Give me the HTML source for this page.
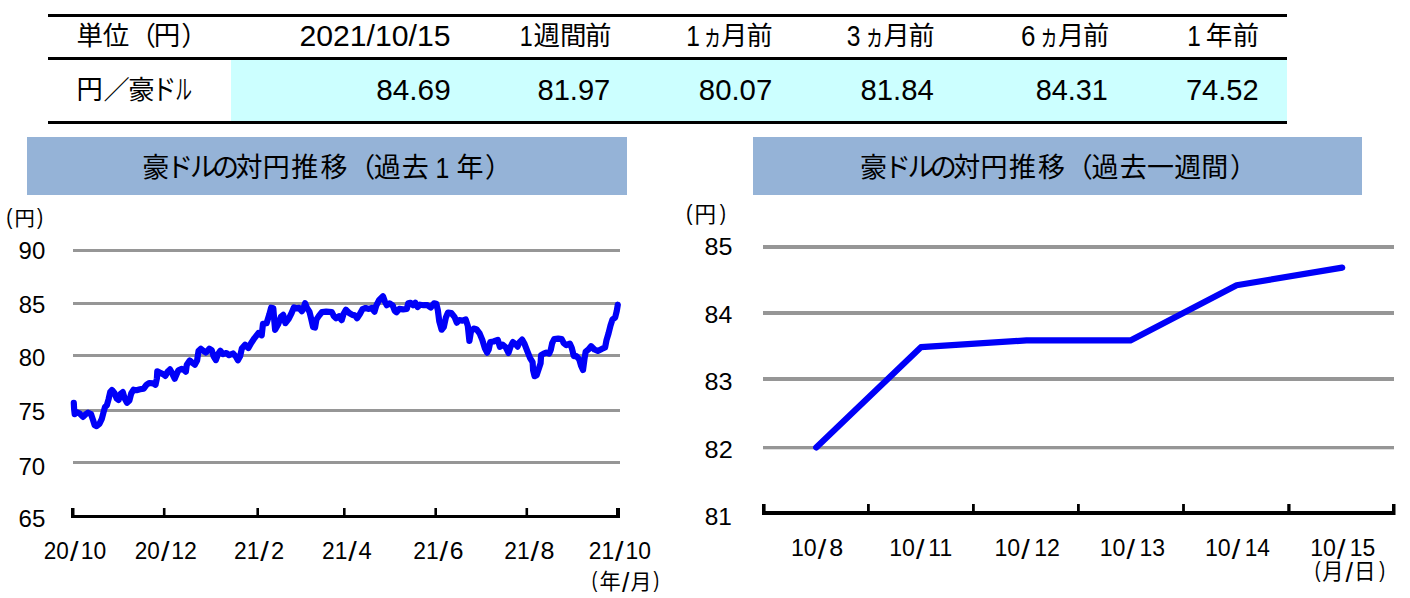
<!DOCTYPE html>
<html lang="ja">
<head>
<meta charset="utf-8">
<title>豪ドルの対円推移</title>
<style>
html,body{margin:0;padding:0;background:#fff;}
body{width:1410px;height:598px;overflow:hidden;font-family:"Liberation Sans","Noto Sans CJK JP",sans-serif;}
#page{position:relative;width:1410px;height:598px;background:#fff;overflow:hidden;}
.rule{position:absolute;left:48px;width:1239px;height:3px;background:#000;}
.vals{position:absolute;left:231px;top:60px;width:1056px;height:61px;background:#ccffff;}
.bar{position:absolute;top:137px;height:57.5px;background:#95b3d7;}
svg{position:absolute;left:0;top:0;}
text,.t{font-family:"Liberation Sans","Noto Sans CJK JP",sans-serif;fill:#000;}
.grid{fill:#969696;}
.axis{fill:#000;}
.line{fill:none;stroke:#0000f8;stroke-width:6.2;stroke-linejoin:round;stroke-linecap:round;}
</style>
</head>
<body>
<div id="page">
<!-- summary table: rules + value band -->
<div class="rule" style="top:14px"></div>
<div class="rule" style="top:57px"></div>
<div class="rule" style="top:121px"></div>
<div class="vals"></div>
<!-- chart title bars -->
<div class="bar" style="left:27px;width:600px"></div>
<div class="bar" style="left:753px;width:609px"></div>
<svg width="1410" height="598" viewBox="0 0 1410 598">
<g id="table">
<g><title>単位（円）</title><text class="t" font-size="26.5" x="76.5 102.8 129.6 153.7 181.2" y="45.3">単位（円）</text></g>
<text class="t" font-size="30.2" transform="matrix(1.0003 0 0 1 299.38 45.7)">2021/10/15</text>
<g><title>1週間前</title><text class="t" font-size="30.2" transform="matrix(0.7680 0 0 1 519.83 45.7)">1</text><text class="t" font-size="26.5" x="533.4 560 585.1" y="45.3">週間前</text></g>
<g><title>1ヵ月前</title><text class="t" font-size="30.2" transform="matrix(0.8141 0 0 1 686.13 45.7)">1</text><text class="t" font-size="28.3" transform="matrix(0.68 0 0 1 703 45.57)">ヵ</text><text class="t" font-size="26.2" x="721.3 746.5" y="45.3">月前</text></g>
<g><title>3ヵ月前</title><text class="t" font-size="30.2" transform="matrix(0.8171 0 0 1 846.66 45.7)">3</text><text class="t" font-size="28.3" transform="matrix(0.68 0 0 1 865.1 45.57)">ヵ</text><text class="t" font-size="26.2" x="883.4 908.6" y="45.3">月前</text></g>
<g><title>6ヵ月前</title><text class="t" font-size="30.2" transform="matrix(0.8611 0 0 1 1020.88 45.7)">6</text><text class="t" font-size="28.3" transform="matrix(0.68 0 0 1 1039.6 45.57)">ヵ</text><text class="t" font-size="26.2" x="1057.9 1083.1" y="45.3">月前</text></g>
<g><title>1年前</title><text class="t" font-size="30.2" transform="matrix(0.8064 0 0 1 1187.34 45.7)">1</text><text class="t" font-size="26.6" x="1205.8 1232.5" y="45.3">年前</text></g>
<g><title>円／豪ドル</title><text class="t" font-size="26.3" x="76.5 103.5 128.2" y="99.3">円／豪</text><text class="t" font-size="28" transform="matrix(0.87 0 0 1 151.96 99.79)">ド</text><text class="t" font-size="27.1" transform="matrix(0.607 0 0 1 175.51 99.95)">ル</text></g>
<text class="t" font-size="30.2" transform="matrix(0.9845 0 0 1 376.31 99.7)">84.69</text>
<text class="t" font-size="30.2" transform="matrix(0.9650 0 0 1 537.43 99.7)">81.97</text>
<text class="t" font-size="30.2" transform="matrix(0.9719 0 0 1 698.82 99.7)">80.07</text>
<text class="t" font-size="30.2" transform="matrix(0.9703 0 0 1 860.43 99.7)">81.84</text>
<text class="t" font-size="30.2" transform="matrix(0.9562 0 0 1 1035.65 99.7)">84.31</text>
<text class="t" font-size="30.2" transform="matrix(0.9613 0 0 1 1185.91 99.7)">74.52</text>
</g>
<g id="title-year"><title>豪ドルの対円推移（過去1年）</title>
<text class="t" font-size="27" x="142.2 166.2 189.9 212 235.5 262.7 291.3 320.4 348.2 373.8 401.8" y="177.3">豪ドルの対円推移（過去</text>
<text class="t" font-size="30.2" transform="matrix(0.8218 0 0 1 435.41 177.8)">1</text>
<text class="t" font-size="27" x="456.4 485.1" y="177.3">年）</text>
</g>
<g id="title-week"><title>豪ドルの対円推移（過去一週間）</title>
<text class="t" font-size="27" x="859.9 883.9 907.6 929.7 953.2 980.4 1009 1038.1 1065.8 1091.6 1119.8 1147 1174.2 1201.3 1230.1" y="177.3">豪ドルの対円推移（過去一週間）</text>
</g>
<g id="chart-year">
<rect class="grid" x="73" y="249" width="547" height="3"/>
<rect class="grid" x="73" y="302" width="547" height="3"/>
<rect class="grid" x="73" y="354" width="547" height="3"/>
<rect class="grid" x="73" y="409" width="547" height="3"/>
<rect class="grid" x="73" y="461" width="547" height="3"/>
<polyline class="line" points="73.8,402.8 74.1,408.9 74.7,414.1 76.9,412.2 79.7,413.6 83,416.9 85.3,414.5 88.1,412.7 91,414.1 93.1,420.2 94.7,425.3 96.6,426.2 99.4,423.9 101.7,419.2 103.4,412.7 105,407 106.9,405.2 108.5,399.5 110.2,392.1 112,390 114.4,393 116.7,398.6 118.6,400 120.5,393.9 122.8,392.1 124.7,398.6 127,402.8 129.4,400.5 131.2,393.5 133.6,389.7 136.4,390.2 140.1,389.2 143.7,388.6 146.6,384.6 149.4,383 153.1,383.4 155.5,384.8 156.9,378.3 157.3,371.3 160.1,372.7 163,374.1 165.3,375.9 167.6,371.7 170,369.4 172.3,373.6 174.7,378.7 176.5,374.5 178.4,370.3 181.7,368.9 184,369.9 185.9,371.7 186.8,364.7 189.7,360.5 192.5,362.8 194.8,364.7 197.1,360.5 198.5,351.1 200.9,348.8 203.7,351.1 206,352.5 209.3,348.8 211.7,350.2 213.6,356.3 215.9,360 218.1,354 220.3,350.8 223,354.1 226.3,353 229.1,355.2 233,353.5 235.7,356.3 237.9,360.2 240.1,356.3 241.8,348.6 245.1,344.7 248.4,348 251.2,343 254.5,338.1 258.4,333.1 261.7,335.3 263,323.7 266.6,323.2 269.4,314.3 271.1,307.7 273.3,308.3 274.4,322.1 275.1,329.8 278.2,324.3 281,316.6 283.2,314.9 285.4,323.2 288.7,318.8 291.6,313 293.9,307.4 296.2,308.4 299.1,307.9 301.9,311.2 303.7,307.4 305.1,303.2 307,307.9 309.4,311.6 311.2,318.7 313.1,327.1 315,327.6 316.4,319.6 319.2,315.4 322,312.1 326.2,311.6 331.8,312.1 333.7,315.9 336.1,318.2 338.9,316.3 341.7,320.1 343.5,314 345.9,309.8 349.2,313 352.4,314.9 354.8,315.4 357.1,318.2 359.9,314 362.5,309.1 365.6,308 368.9,308.9 371.7,308 374.5,311.7 376.4,305.2 379.2,300 383,296.3 384.8,301.4 386.7,305.2 389.5,303.3 392.8,305.6 394.7,310.8 396.5,312.2 399.3,308.9 403.1,309.4 406.8,308.9 408.2,303.3 410.6,302.8 412.9,305.2 415.3,302.8 417.6,307 420,304.7 423.7,305.2 427.4,305.2 430.7,307.5 434,303.3 436.3,303.8 437.8,309.9 439.3,321.5 441.6,329.7 443.8,327 445.9,317.4 448,312.6 451.3,313.1 454.5,316.9 456.8,322.7 459.3,320.1 462.5,320.6 465.7,319.5 467.8,325.9 469.4,340.9 471,331.3 473.7,328.6 476.4,329.2 479.6,333.4 482.3,339.9 484.9,348.4 487.1,352.7 488.7,349.5 490.3,342 493.5,341.5 497.8,339.9 499.9,346.8 502.6,344.7 505.8,347.3 508.5,352.9 510.5,346.7 513,342.1 515.5,344.1 517.6,346.6 519.6,342.1 522.1,339.6 524.6,344.1 527.1,350.6 530.1,358.1 532.6,362.1 533.1,370.2 534.6,376.2 536.6,375.2 538.6,369.2 540.6,363.2 541.1,355.1 543.7,353.6 546.2,352.6 549.2,353.6 550.7,350.1 552.2,343.1 554.2,339.1 558.2,338.6 561.7,339.1 563.7,343.1 566.2,345.1 569.8,343.6 571.8,348.1 573.8,356.1 576.3,356.1 579.3,359.6 581.2,366 583,370 584.4,359.5 585.7,351.6 588.4,349.5 591.1,346.2 594.4,349.5 597.8,350.9 601.8,348.9 605.1,347.5 606.5,340.2 608.5,333.5 610.5,325.5 612.5,319.4 615.2,317.4 616.8,310.7 617.8,304.7"/>
<path class="axis" d="M71 515H620V518H71Z M71 508H74.5V516H71Z M616 508H620V516H616Z M162.9 508H165.5V516H162.9Z M256.4 508H259V516H256.4Z M343 508H345.6V516H343Z M434.4 508H437V516H434.4Z M525.5 508H528.1V516H525.5Z"/>
<text class="t" font-size="23.2" transform="matrix(1.0331 0 0 1 18.58 259.3)">90</text>
<text class="t" font-size="23.2" transform="matrix(1.0326 0 0 1 18.66 313.1)">85</text>
<text class="t" font-size="23.2" transform="matrix(1.0297 0 0 1 18.66 366.3)">80</text>
<text class="t" font-size="23.2" transform="matrix(1.0405 0 0 1 18.46 420.3)">75</text>
<text class="t" font-size="23.2" transform="matrix(1.0375 0 0 1 18.47 474.7)">70</text>
<text class="t" font-size="23.2" transform="matrix(1.0400 0 0 1 18.47 527.1)">65</text>
<g><text class="t" font-size="23.2" transform="matrix(0.9734 0 0 1 43.76 558.5)">20</text><text class="t" font-size="20" transform="matrix(1.5297 0 0 1.3889 70 561.23)">/</text><text class="t" font-size="23.2" transform="matrix(0.9856 0 0 1 80.76 558.5)">10</text></g>
<g><text class="t" font-size="23.2" transform="matrix(0.9734 0 0 1 134.66 558.5)">20</text><text class="t" font-size="20" transform="matrix(1.5297 0 0 1.3889 160.9 561.23)">/</text><text class="t" font-size="23.2" transform="matrix(0.9969 0 0 1 171.14 558.5)">12</text></g>
<g><text class="t" font-size="23.2" transform="matrix(0.9827 0 0 1 233.95 558.5)">21</text><text class="t" font-size="20" transform="matrix(1.5297 0 0 1.3889 260.2 561.23)">/</text><text class="t" font-size="23.2" transform="matrix(1.0218 0 0 1 270.91 558.5)">2</text></g>
<g><text class="t" font-size="23.2" transform="matrix(0.9827 0 0 1 322.05 558.5)">21</text><text class="t" font-size="20" transform="matrix(1.5297 0 0 1.3889 348.3 561.23)">/</text><text class="t" font-size="23.2" transform="matrix(1.0265 0 0 1 358.55 558.5)">4</text></g>
<g><text class="t" font-size="23.2" transform="matrix(0.9827 0 0 1 413.35 558.5)">21</text><text class="t" font-size="20" transform="matrix(1.5297 0 0 1.3889 439.6 561.23)">/</text><text class="t" font-size="23.2" transform="matrix(1.0649 0 0 1 449.85 558.5)">6</text></g>
<g><text class="t" font-size="23.2" transform="matrix(0.9827 0 0 1 504.35 558.5)">21</text><text class="t" font-size="20" transform="matrix(1.5297 0 0 1.3889 530.6 561.23)">/</text><text class="t" font-size="23.2" transform="matrix(1.0839 0 0 1 540.51 558.5)">8</text></g>
<g><text class="t" font-size="23.2" transform="matrix(0.9827 0 0 1 588.85 558.5)">21</text><text class="t" font-size="20" transform="matrix(1.5297 0 0 1.3889 615.1 561.23)">/</text><text class="t" font-size="23.2" transform="matrix(0.9856 0 0 1 625.56 558.5)">10</text></g>
<g><title>(円)</title><text class="t" font-size="22.2" transform="matrix(0.8325 0 0 1 6.35 224.2)">(</text><text class="t" font-size="20.3" x="14.6" y="226">円</text><text class="t" font-size="22.2" transform="matrix(0.8325 0 0 1 36.99 224.2)">)</text></g>
<g><title>(年/月)</title><text class="t" font-size="22.2" transform="matrix(0.7475 0 0 1 591.87 586.6)">(</text><text class="t" font-size="21.2" x="599.45" y="588.9">年</text><text class="t" font-size="20" transform="matrix(1.3137 0 0 1.3889 621.9 591.83)">/</text><text class="t" font-size="21" x="630.48" y="588.9">月</text><text class="t" font-size="22.2" transform="matrix(0.7645 0 0 1 653.6 586.6)">)</text></g>
</g>
<g id="chart-week">
<rect class="grid" x="763" y="245" width="631" height="4"/>
<rect class="grid" x="763" y="311" width="631" height="4"/>
<rect class="grid" x="763" y="377" width="631" height="4"/>
<rect class="grid" x="763" y="446" width="631" height="3.3"/>
<polyline class="line" style="stroke-width:6.2" points="816.2,447.4 920.9,347.2 1026.5,340.4 1130.4,340.4 1236.6,285.3 1342.2,267.6"/>
<path class="axis" d="M762 511H1395.5V515H762Z M762 504H765.6V512H762Z M1392 504H1395.5V512H1392Z M867 504H869.8V512H867Z M972 504H974.8V512H972Z M1077 504H1079.8V512H1077Z M1182.1 504H1184.9V512H1182.1Z M1287.25 504H1290.55V512H1287.25Z"/>
<text class="t" font-size="23.2" transform="matrix(1.0830 0 0 1 704.61 255.2)">85</text>
<text class="t" font-size="23.2" transform="matrix(1.0698 0 0 1 704.62 322.6)">84</text>
<text class="t" font-size="23.2" transform="matrix(1.0850 0 0 1 704.61 390.3)">83</text>
<text class="t" font-size="23.2" transform="matrix(1.0918 0 0 1 704.6 457.5)">82</text>
<text class="t" font-size="23.2" transform="matrix(1.0522 0 0 1 704.64 524.7)">81</text>
<g><text class="t" font-size="23.2" transform="matrix(0.9986 0 0 1 790.94 555.9)">10</text><text class="t" font-size="20" transform="matrix(1.5297 0 0 1.3889 817.8 558.63)">/</text><text class="t" font-size="23.2" transform="matrix(1.0839 0 0 1 829.21 555.9)">8</text></g>
<g><text class="t" font-size="23.2" transform="matrix(0.9986 0 0 1 889.14 555.9)">10</text><text class="t" font-size="20" transform="matrix(1.5297 0 0 1.3889 916 558.63)">/</text><text class="t" font-size="23.2" transform="matrix(0.9867 0 0 1 928.36 555.9)">11</text></g>
<g><text class="t" font-size="23.2" transform="matrix(0.9986 0 0 1 994.44 555.9)">10</text><text class="t" font-size="20" transform="matrix(1.5297 0 0 1.3889 1021.3 558.63)">/</text><text class="t" font-size="23.2" transform="matrix(0.9969 0 0 1 1034.14 555.9)">12</text></g>
<g><text class="t" font-size="23.2" transform="matrix(0.9986 0 0 1 1099.64 555.9)">10</text><text class="t" font-size="20" transform="matrix(1.5297 0 0 1.3889 1126.5 558.63)">/</text><text class="t" font-size="23.2" transform="matrix(0.9905 0 0 1 1139.55 555.9)">13</text></g>
<g><text class="t" font-size="23.2" transform="matrix(0.9986 0 0 1 1204.94 555.9)">10</text><text class="t" font-size="20" transform="matrix(1.5297 0 0 1.3889 1231.8 558.63)">/</text><text class="t" font-size="23.2" transform="matrix(0.9761 0 0 1 1244.78 555.9)">14</text></g>
<g><text class="t" font-size="23.2" transform="matrix(0.9986 0 0 1 1310.24 555.9)">10</text><text class="t" font-size="20" transform="matrix(1.5297 0 0 1.3889 1337.1 558.63)">/</text><text class="t" font-size="23.2" transform="matrix(0.9886 0 0 1 1349.75 555.9)">15</text></g>
<g><title>(円)</title><text class="t" font-size="21.9" transform="matrix(0.8955 0 0 1 685.98 219.9)">(</text><text class="t" font-size="21.5" x="694.53" y="221.7">円</text><text class="t" font-size="21.9" transform="matrix(0.8611 0 0 1 719.69 219.9)">)</text></g>
<g><title>(月/日)</title><text class="t" font-size="21.9" transform="matrix(0.7922 0 0 1 1314.82 576.8)">(</text><text class="t" font-size="21.3" x="1322.37" y="578.9">月</text><text class="t" font-size="20" transform="matrix(1.3497 0 0 1.3957 1345.4 581.63)">/</text><text class="t" font-size="21.5" x="1354.08" y="578.9">日</text><text class="t" font-size="21.9" transform="matrix(0.8094 0 0 1 1379.2 576.8)">)</text></g>
</g>
</svg>
</div>
</body>
</html>
